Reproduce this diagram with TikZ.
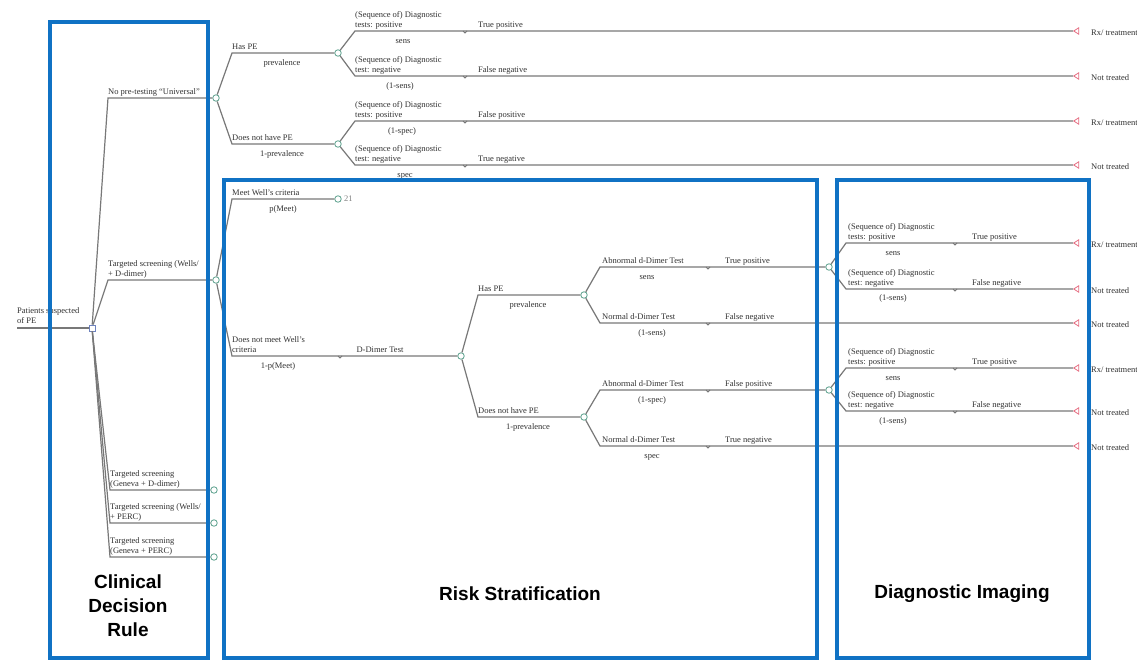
\documentclass[tikz,border=0pt]{standalone}
\usepackage{fontspec}
\setmainfont{Liberation Serif}
\newfontfamily\titlesans{Liberation Sans}
\usetikzlibrary{shapes.geometric}
\definecolor{boxblue}{RGB}{16,114,196}
\definecolor{linegray}{RGB}{120,120,120}
\definecolor{txtgray}{RGB}{50,50,50}
\definecolor{chancegreen}{RGB}{90,160,140}
\definecolor{decblue}{RGB}{110,130,190}
\definecolor{termred}{RGB}{230,110,130}
\newcommand\lblfont{\fontsize{8.5}{10}\selectfont}
\newcommand\bigtitle{\titlesans\bfseries\fontsize{19}{24}\selectfont}
\newcommand\dstrut{\rule[-2.5pt]{0pt}{2.5pt}}
\begin{document}
\begin{tikzpicture}[x=1pt,y=-1pt,
  br/.style={draw=linegray,line width=1.2pt},
  notch/.style={draw=linegray,line width=0.9pt},
  cn/.style={circle,draw=chancegreen,fill=white,line width=0.8pt,inner sep=0pt,minimum size=6.5pt},
  dn/.style={rectangle,draw=decblue,fill=white,line width=0.8pt,inner sep=0pt,minimum size=6pt},
  tn/.style={isosceles triangle,shape border rotate=180,isosceles triangle apex angle=70,isosceles triangle stretches,draw=termred,fill=white,line width=0.8pt,inner sep=0pt,minimum height=5pt,minimum width=6.5pt},
  ab/.style={font=\lblfont,text=txtgray,inner sep=0pt,align=left,anchor=south west,execute at end node=\dstrut},
  be/.style={font=\lblfont,text=txtgray,inner sep=0pt,anchor=north,text height=6pt},
  tl/.style={font=\lblfont,text=txtgray,inner sep=0pt,anchor=west},
  region/.style={draw=boxblue,line width=4pt},
  ttl/.style={font=\bigtitle,align=center,text=black}]
\useasboundingbox (0,0) rectangle (1137,661);
\fill[white] (0,0) rectangle (1137,661);

% ---------- decision / chance / terminal nodes ----------
\coordinate (start) at (17,328);
\node[dn] (D) at (92,328) {};
\node[cn] (c1) at (216,98) {};
\node[cn] (c2) at (216,280) {};
\node[cn] (c3) at (214,490) {};
\node[cn] (c4) at (214,523) {};
\node[cn] (c5) at (214,557) {};
\node[cn] (c11) at (338,53) {};
\node[cn] (c12) at (338,144) {};
\node[cn] (c21) at (338,199) {};
\node[cn] (c22) at (461,356) {};
\node[cn] (c221) at (584,295) {};
\node[cn] (c222) at (584,417) {};
\node[cn] (c2211) at (829,267) {};
\node[cn] (c2221) at (829,390) {};
\node[tn] (t1) at (1077,31) {};
\node[tn] (t2) at (1077,76) {};
\node[tn] (t3) at (1077,121) {};
\node[tn] (t4) at (1077,165) {};
\node[tn] (t5) at (1077,243) {};
\node[tn] (t6) at (1077,289) {};
\node[tn] (t7) at (1077,323) {};
\node[tn] (t8) at (1077,368) {};
\node[tn] (t9) at (1077,411) {};
\node[tn] (t10) at (1077,446) {};

% ---------- kinks ----------
\coordinate (k1) at (108,98);
\coordinate (k2) at (108,280);
\coordinate (k3) at (110,490);
\coordinate (k4) at (110,523);
\coordinate (k5) at (110,557);
\coordinate (k11) at (232,53);
\coordinate (k12) at (232,144);
\coordinate (k111) at (355,31);
\coordinate (k112) at (355,76);
\coordinate (k121) at (355,121);
\coordinate (k122) at (355,165);
\coordinate (k21) at (232,199);
\coordinate (k22) at (232,356);
\coordinate (k221) at (478,295);
\coordinate (k222) at (478,417);
\coordinate (k2211) at (600,267);
\coordinate (k2212) at (600,323);
\coordinate (k2221) at (600,390);
\coordinate (k2222) at (600,446);
\coordinate (k22111) at (846,243);
\coordinate (k22112) at (846,289);
\coordinate (k22211) at (846,368);
\coordinate (k22212) at (846,411);

% ---------- branches ----------
\draw[br] (start) -- (D);
\draw[br] (D) -- (k1) -- (c1);
\draw[br] (D) -- (k2) -- (c2);
\draw[br] (D) -- (k3) -- (c3);
\draw[br] (D) -- (k4) -- (c4);
\draw[br] (D) -- (k5) -- (c5);
\draw[br] (c1) -- (k11) -- (c11);
\draw[br] (c1) -- (k12) -- (c12);
\draw[br] (c11) -- (k111) -- (t1);
\draw[br] (c11) -- (k112) -- (t2);
\draw[br] (c12) -- (k121) -- (t3);
\draw[br] (c12) -- (k122) -- (t4);
\draw[br] (c2) -- (k21) -- (c21);
\draw[br] (c2) -- (k22) -- (c22);
\draw[br] (c22) -- (k221) -- (c221);
\draw[br] (c22) -- (k222) -- (c222);
\draw[br] (c221) -- (k2211) -- (c2211);
\draw[br] (c221) -- (k2212) -- (t7);
\draw[br] (c222) -- (k2221) -- (c2221);
\draw[br] (c222) -- (k2222) -- (t10);
\draw[br] (c2211) -- (k22111) -- (t5);
\draw[br] (c2211) -- (k22112) -- (t6);
\draw[br] (c2221) -- (k22211) -- (t8);
\draw[br] (c2221) -- (k22212) -- (t9);

% ---------- small line notches ----------
\foreach \nx/\ny in {465/31,465/76,465/121,465/165,340/356,708/267,708/323,708/390,708/446,955/243,955/289,955/368,955/411}
  \draw[notch] (\nx-2,\ny) -- (\nx,\ny+2) -- (\nx+2,\ny);

% ---------- labels: root and first level ----------
\node[ab] (lroot) at (17,326) {Patients suspected\\of PE};
\node[ab] (l1) at (108,97) {No pre-testing ``Universal''};
\node[ab] (l2) at (108,279) {Targeted screening (Wells/\\+ D-dimer)};
\node[ab] (l3) at (110,489) {Targeted screening\\(Geneva + D-dimer)};
\node[ab] (l4) at (110,522) {Targeted screening (Wells/\\+ PERC)};
\node[ab] (l5) at (110,556) {Targeted screening\\(Geneva + PERC)};

% ---------- upper tree ----------
\node[ab] (l11) at (232,52) {Has PE};
\node[be] (p11) at (282,59) {prevalence};
\node[ab] (l12) at (232,143) {Does not have PE};
\node[be] (p12) at (282,150) {1-prevalence};
\node[ab] (l111) at (355,30) {(Sequence of) Diagnostic\\tests: positive};
\node[ab] (o111) at (478,30) {True positive};
\node[be] (p111) at (403,37) {sens};
\node[ab] (l112) at (355,75) {(Sequence of) Diagnostic\\test: negative};
\node[ab] (o112) at (478,75) {False negative};
\node[be] (p112) at (400,82) {(1-sens)};
\node[ab] (l121) at (355,120) {(Sequence of) Diagnostic\\tests: positive};
\node[ab] (o121) at (478,120) {False positive};
\node[be] (p121) at (402,127) {(1-spec)};
\node[ab] (l122) at (355,164) {(Sequence of) Diagnostic\\test: negative};
\node[ab] (o122) at (478,164) {True negative};
\node[be] (p122) at (405,171) {spec};

% ---------- middle tree ----------
\node[ab] (l21) at (232,198) {Meet Well's criteria};
\node[be] (p21) at (283,205) {p(Meet)};
\node[tl,text=gray] (n21) at (344,199) {21};
\node[ab] (l22) at (232,355) {Does not meet Well's\\criteria};
\node[be] (p22) at (278,362) {1-p(Meet)};
\node[ab,anchor=south] (dd) at (380,355) {D-Dimer Test};
\node[ab] (l221) at (478,294) {Has PE};
\node[be] (p221) at (528,301) {prevalence};
\node[ab] (l222) at (478,416) {Does not have PE};
\node[be] (p222) at (528,423) {1-prevalence};
\node[ab] (l2211) at (602,266) {Abnormal d-Dimer Test};
\node[ab] (o2211) at (725,266) {True positive};
\node[be] (p2211) at (647,273) {sens};
\node[ab] (l2212) at (602,322) {Normal d-Dimer Test};
\node[ab] (o2212) at (725,322) {False negative};
\node[be] (p2212) at (652,329) {(1-sens)};
\node[ab] (l2221) at (602,389) {Abnormal d-Dimer Test};
\node[ab] (o2221) at (725,389) {False positive};
\node[be] (p2221) at (652,396) {(1-spec)};
\node[ab] (l2222) at (602,445) {Normal d-Dimer Test};
\node[ab] (o2222) at (725,445) {True negative};
\node[be] (p2222) at (652,452) {spec};

% ---------- right tree ----------
\node[ab] (l22111) at (848,242) {(Sequence of) Diagnostic\\tests: positive};
\node[ab] (o22111) at (972,242) {True positive};
\node[be] (p22111) at (893,249) {sens};
\node[ab] (l22112) at (848,288) {(Sequence of) Diagnostic\\test: negative};
\node[ab] (o22112) at (972,288) {False negative};
\node[be] (p22112) at (893,294) {(1-sens)};
\node[ab] (l22211) at (848,367) {(Sequence of) Diagnostic\\tests: positive};
\node[ab] (o22211) at (972,367) {True positive};
\node[be] (p22211) at (893,374) {sens};
\node[ab] (l22212) at (848,410) {(Sequence of) Diagnostic\\test: negative};
\node[ab] (o22212) at (972,410) {False negative};
\node[be] (p22212) at (893,417) {(1-sens)};

% ---------- terminal labels ----------
\node[tl] (e1) at (1091,33) {Rx/ treatment};
\node[tl] (e2) at (1091,78) {Not treated};
\node[tl] (e3) at (1091,123) {Rx/ treatment};
\node[tl] (e4) at (1091,167) {Not treated};
\node[tl] (e5) at (1091,245) {Rx/ treatment};
\node[tl] (e6) at (1091,291) {Not treated};
\node[tl] (e7) at (1091,325) {Not treated};
\node[tl] (e8) at (1091,370) {Rx/ treatment};
\node[tl] (e9) at (1091,413) {Not treated};
\node[tl] (e10) at (1091,448) {Not treated};

% ---------- regions ----------
\draw[region] (50,22) rectangle (207.5,658);
\draw[region] (223.5,180) rectangle (816.5,658);
\draw[region] (836.5,180) rectangle (1088.5,658);
\node[ttl] (tcdr) at (128,606) {Clinical\\Decision\\Rule};
\node[ttl] (trs) at (520,594) {Risk Stratification};
\node[ttl] (tdi) at (962,594) {Diagnostic Imaging};
\end{tikzpicture}
\end{document}
